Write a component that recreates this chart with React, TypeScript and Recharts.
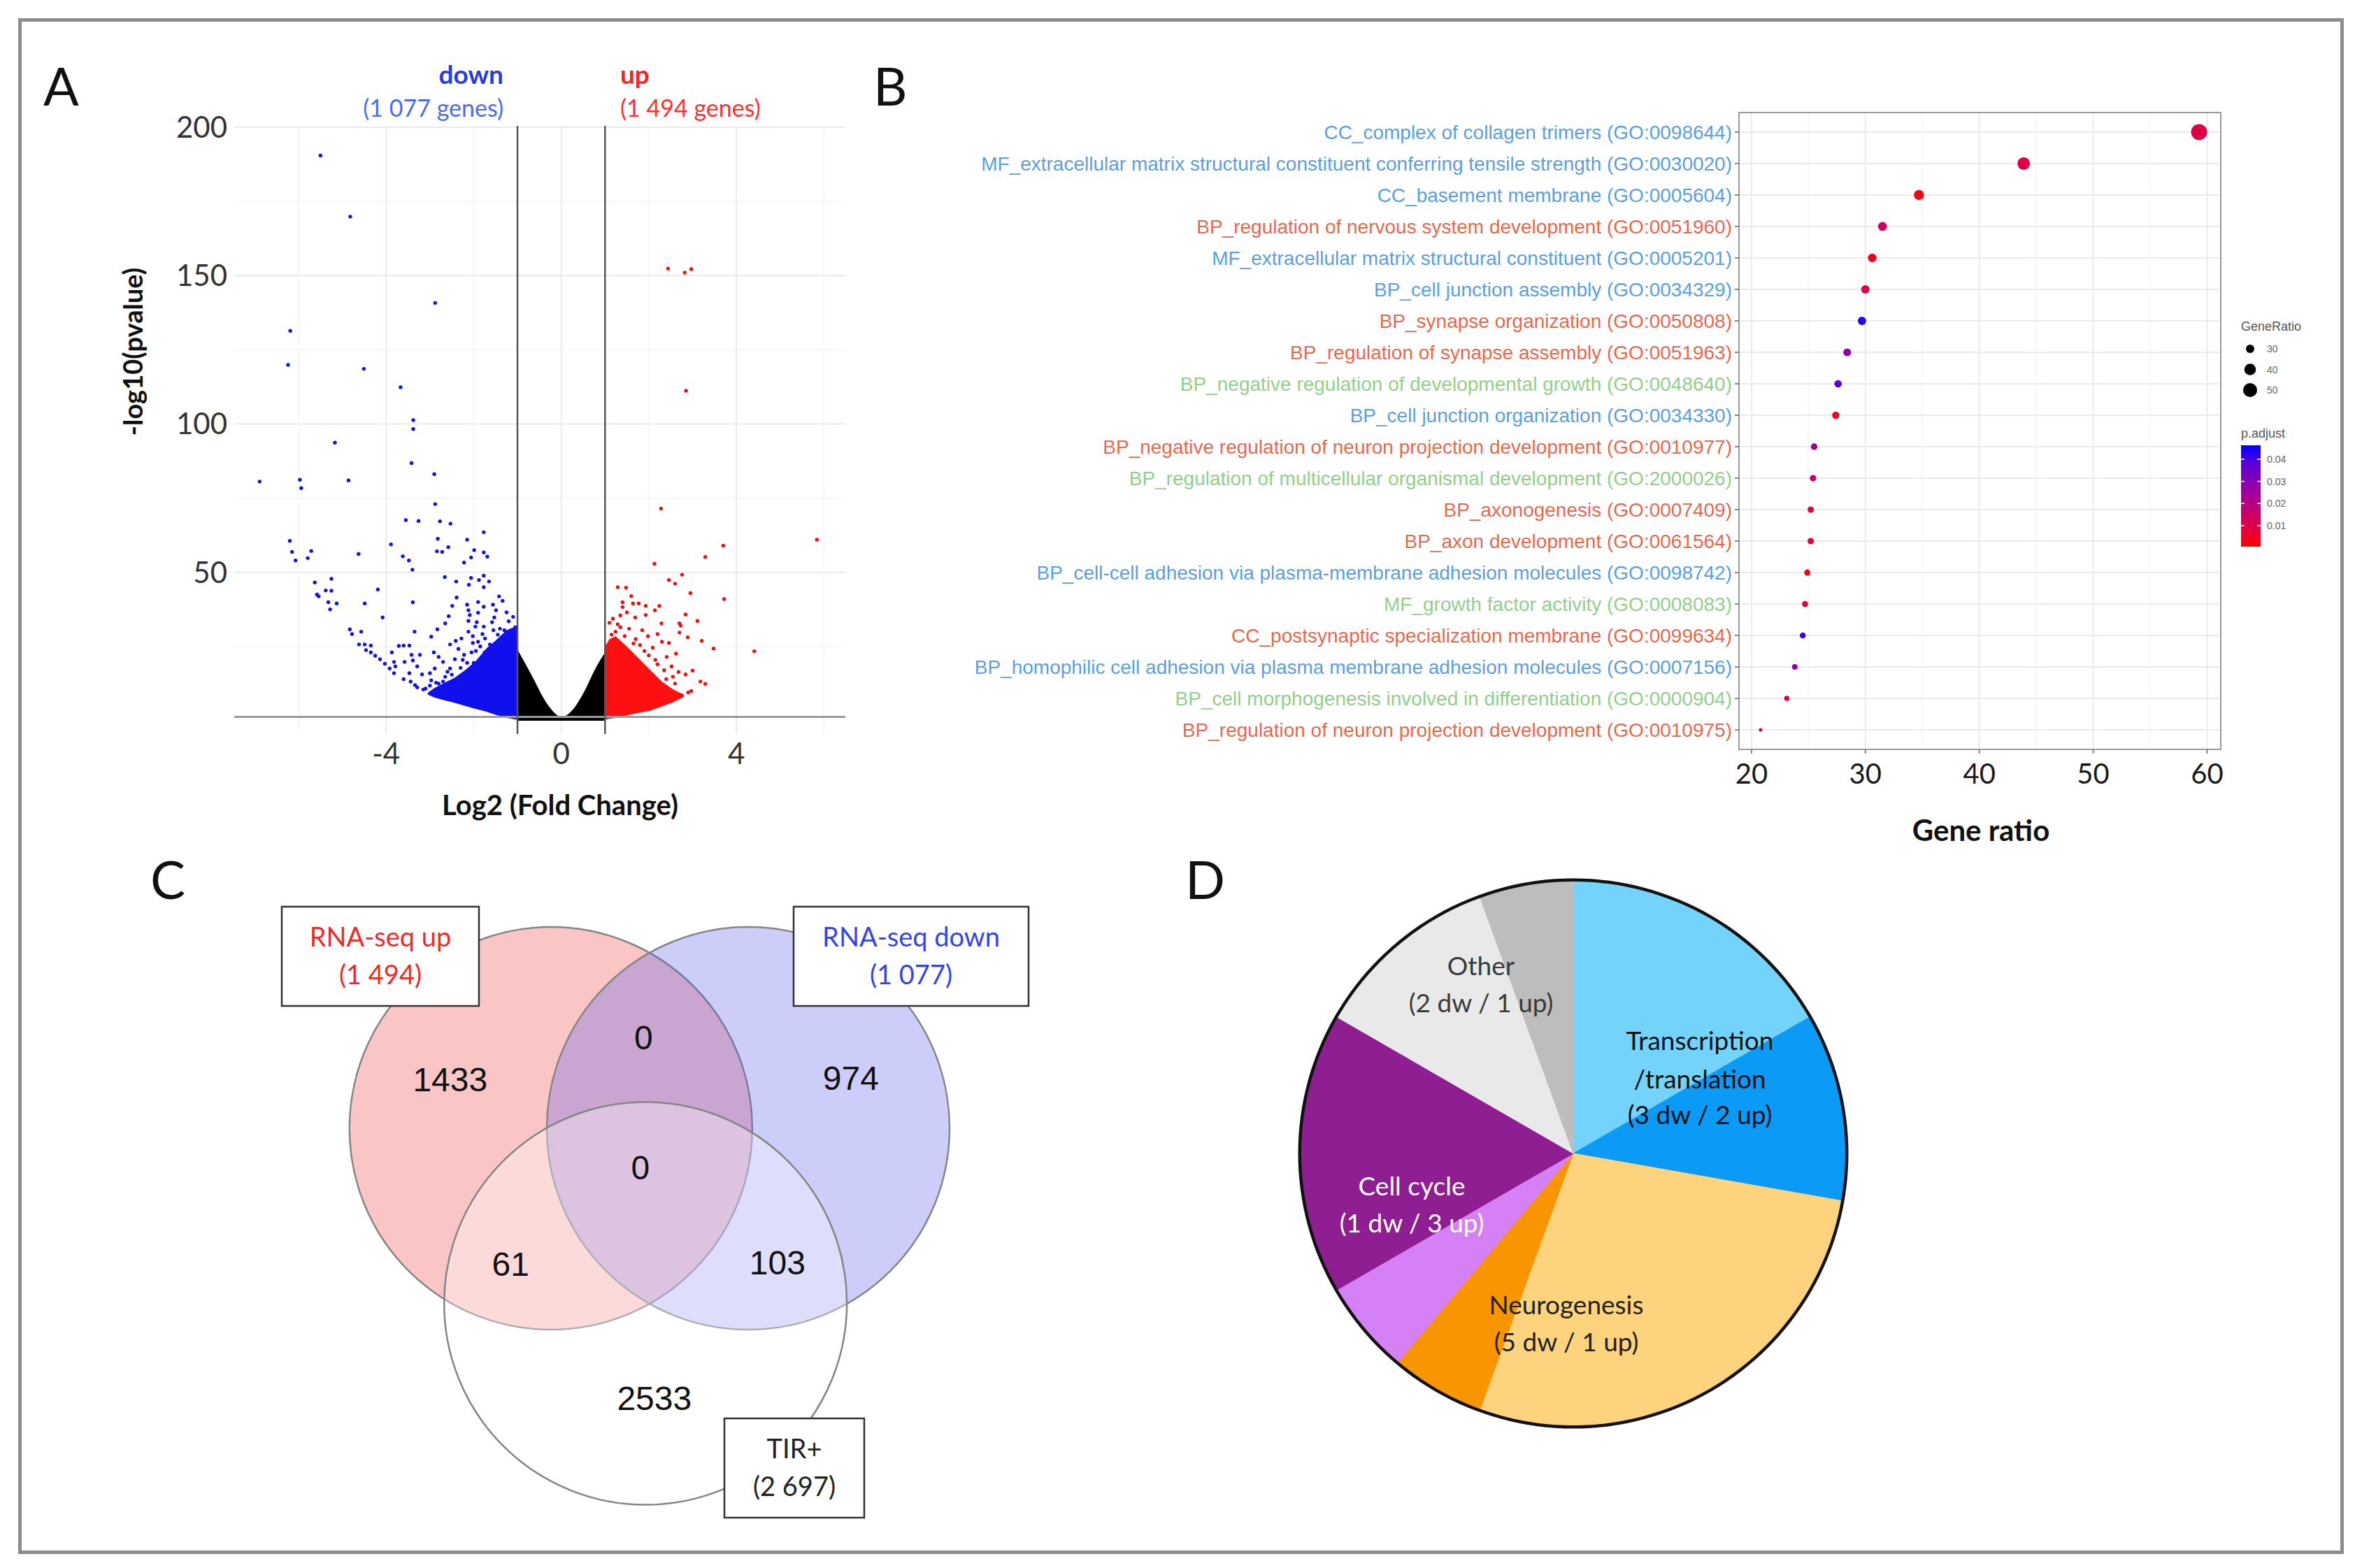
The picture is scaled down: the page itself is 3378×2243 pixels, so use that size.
import React from 'react';
import {
  Area,
  CartesianGrid,
  Cell,
  ComposedChart,
  Pie,
  PieChart,
  ReferenceArea,
  ReferenceLine,
  Scatter,
  ScatterChart,
  XAxis,
  YAxis,
  ZAxis,
} from 'recharts';

const LATO = 'Lato, "Open Sans", sans-serif';
const ARIAL = '"Liberation Sans", Arial, sans-serif';

// ---------- A: volcano (log2 FC, -log10 p) ----------
const downGenes: [number, number][] = [
  [-5.5, 190.5], [-4.82, 169.9], [-2.88, 140.8], [-6.19, 131.4], [-6.24, 119.9], [-4.51, 118.6], [-3.67, 112.4],
  [-3.38, 101.3], [-3.38, 98.3], [-5.17, 93.7], [-3.42, 86.8], [-2.9, 83.1], [-6.89, 80.6], [-5.97, 81.2],
  [-5.94, 78.4], [-4.86, 81.0], [-2.88, 73.0], [-3.55, 67.6], [-3.26, 67.3], [-2.77, 67.2], [-2.53, 66.4],
  [-1.77, 63.5], [-2.82, 61.3], [-2.15, 61.0], [-6.2, 60.6], [-3.89, 59.4], [-2.58, 58.5], [-1.99, 57.5],
  [-2.84, 57.1], [-2.72, 56.9], [-6.15, 56.9], [-5.71, 57.2], [-4.63, 56.2], [-6.07, 54.0], [-5.79, 54.8],
  [-3.62, 55.4], [-3.48, 54.0], [-2.06, 55.0], [-1.77, 56.7], [-1.69, 55.3], [-2.22, 53.3], [-3.4, 50.9],
  [-2.66, 48.4], [-2.06, 48.1], [-1.88, 47.4], [-1.77, 48.9], [-1.65, 46.9], [-2.4, 46.9], [-2.11, 45.8],
  [-1.77, 45.0], [-5.63, 46.6], [-5.25, 47.8], [-5.38, 43.9], [-5.25, 43.8], [-5.58, 42.5], [-5.54, 41.9],
  [-4.19, 44.2], [-5.32, 39.9], [-5.13, 39.5], [-5.28, 37.5], [-4.49, 39.5], [-3.39, 39.9], [-2.39, 41.5],
  [-1.42, 41.9], [-1.34, 40.4], [-2.49, 38.7], [-2.15, 39.1], [-2.12, 37.2], [-1.9, 40.0], [-1.77, 38.4],
  [-1.56, 39.1], [-1.49, 37.2], [-2.09, 35.6], [-1.9, 36.4], [-2.57, 35.2], [-4.08, 34.8], [-1.53, 34.8],
  [-1.58, 33.2], [-2.65, 32.8], [-2.12, 33.6], [-1.93, 33.2], [-1.96, 31.7], [-1.77, 31.7], [-4.83, 30.8],
  [-4.78, 29.2], [-4.57, 30.0], [-2.83, 30.8], [-3.35, 30.0], [-2.12, 30.0], [-2.02, 28.5], [-1.8, 29.2],
  [-2.97, 28.3], [-2.41, 26.9], [-2.28, 27.7], [-2.02, 26.2], [-1.9, 26.6], [-1.74, 27.7], [-1.63, 25.7],
  [-4.62, 25.7], [-4.49, 25.7], [-4.35, 25.3], [-3.71, 25.2], [-3.6, 25.3], [-3.47, 25.3], [-2.54, 25.7],
  [-4.46, 23.8], [-4.35, 23.0], [-4.25, 21.9], [-4.14, 20.7], [-4.03, 19.2], [-3.92, 17.6], [-3.82, 16.0],
  [-3.87, 23.0], [-3.82, 19.8], [-3.79, 18.3], [-3.42, 22.2], [-3.58, 19.8], [-3.39, 20.3], [-3.23, 22.2],
  [-3.29, 18.3], [-3.47, 16.0], [-3.18, 15.6], [-2.91, 23.0], [-2.8, 21.5], [-2.7, 19.8], [-2.89, 17.6],
  [-2.54, 17.6], [-2.43, 20.7], [-2.35, 24.2], [-2.22, 22.2], [-3.44, 13.2], [-3.34, 12.0], [-3.29, 11.2],
  [-2.97, 13.6], [-2.86, 12.8], [-2.7, 13.2], [-1.3, 30.5], [-1.45, 29.0], [-1.2, 33.5], [-1.1, 35.0],
  [-2.6, 10.5], [-2.3, 12.0], [-2.1, 14.5], [-1.85, 18.0], [-1.6, 22.0], [-2.75, 9.5], [-3.1, 10.8],
  [-3.6, 14.0], [-3.0, 16.0], [-2.5, 15.5], [-2.0, 19.5], [-1.25, 36.5], [-1.1, 30.0], [-1.15, 27.0],
  [-1.35, 26.0], [-1.6, 24.5], [-1.75, 23.0], [-1.95, 23.5], [-2.15, 19.5], [-2.3, 17.8], [-2.65, 14.8],
  [-2.8, 12.5], [-3.0, 11.8], [-3.15, 10.5], [-1.4, 31.0], [-1.55, 30.5], [-1.85, 25.0], [-2.05, 23.0],
  [-2.25, 20.5], [-2.6, 16.5], [-1.05, 31.5],
];

const upGenes: [number, number][] = [
  [2.44, 152.4], [2.82, 151.0], [2.97, 152.2], [2.85, 111.2], [2.28, 71.5], [5.84, 61.0], [3.7, 59.0],
  [3.29, 55.2], [2.13, 52.9], [2.76, 49.2], [2.46, 47.4], [2.6, 46.2], [2.95, 43.0], [3.72, 41.0],
  [1.29, 45.0], [1.48, 44.8], [1.6, 42.0], [1.4, 39.9], [1.4, 38.3], [1.64, 39.5], [1.77, 39.5],
  [1.93, 38.7], [2.24, 38.7], [2.14, 37.2], [2.84, 35.8], [3.11, 33.6], [2.29, 32.8], [2.7, 32.8],
  [2.73, 32.0], [1.69, 34.8], [1.93, 35.6], [2.7, 29.7], [2.89, 28.1], [3.21, 26.9], [3.48, 24.3],
  [4.41, 23.4], [2.46, 26.2], [2.62, 22.6], [3.0, 16.9], [2.84, 15.6], [2.68, 16.4], [3.18, 13.2],
  [3.29, 12.4], [2.97, 10.0], [1.18, 34.4], [1.29, 32.5], [1.24, 30.0], [1.98, 28.5], [2.2, 29.2],
  [2.3, 26.6], [2.09, 24.6], [2.41, 21.5], [2.52, 18.3], [1.1, 33.0], [1.35, 35.5], [1.55, 31.0],
  [1.85, 30.5], [2.0, 22.0], [2.2, 19.0], [2.6, 12.5], [2.4, 14.0], [1.7, 27.5], [1.5, 36.5],
  [2.75, 8.5], [2.9, 9.5], [1.45, 28.5], [1.65, 26.0], [1.9, 23.5], [2.15, 20.5], [2.35, 17.0],
  [2.55, 14.8], [1.15, 29.0], [1.35, 31.5], [1.8, 25.5],
];

// dense clouds read as envelopes: [x, low, high]
const downCloud: [number, number, number][] = [
  [-3.05, 8.8, 9.4], [-2.9, 7.8, 11.0], [-2.7, 7.0, 12.5], [-2.43, 6.0, 14.5], [-2.2, 5.0, 17.0],
  [-1.96, 4.0, 20.0], [-1.7, 3.0, 24.5], [-1.5, 2.0, 27.0], [-1.25, 1.0, 30.5], [-1.0, 0.3, 32.0],
];
const nsCloud: [number, number][] = [
  [-1.0, 24], [-0.85, 20], [-0.63, 14], [-0.42, 8], [-0.21, 3.5], [-0.05, 1.5],
  [0.05, 1.3], [0.12, 1.8], [0.33, 5.0], [0.55, 10.5], [0.76, 17], [1.0, 23],
];
const upCloud: [number, number, number][] = [
  [1.0, 0.3, 25], [1.1, 0.6, 27.5], [1.24, 0.9, 28.5], [1.5, 1.8, 25], [1.77, 2.6, 21],
  [2.04, 3.4, 17], [2.3, 4.8, 13.2], [2.57, 6.3, 10.4], [2.8, 8.0, 8.8],
];

const upCount = 1494;
const downCount = 1077;
const tirCount = 2697;

// ---------- B: GO enrichment ----------
const goTerms = [
  'CC_complex of collagen trimers (GO:0098644)',
  'MF_extracellular matrix structural constituent conferring tensile strength (GO:0030020)',
  'CC_basement membrane (GO:0005604)',
  'BP_regulation of nervous system development (GO:0051960)',
  'MF_extracellular matrix structural constituent (GO:0005201)',
  'BP_cell junction assembly (GO:0034329)',
  'BP_synapse organization (GO:0050808)',
  'BP_regulation of synapse assembly (GO:0051963)',
  'BP_negative regulation of developmental growth (GO:0048640)',
  'BP_cell junction organization (GO:0034330)',
  'BP_negative regulation of neuron projection development (GO:0010977)',
  'BP_regulation of multicellular organismal development (GO:2000026)',
  'BP_axonogenesis (GO:0007409)',
  'BP_axon development (GO:0061564)',
  'BP_cell-cell adhesion via plasma-membrane adhesion molecules (GO:0098742)',
  'MF_growth factor activity (GO:0008083)',
  'CC_postsynaptic specialization membrane (GO:0099634)',
  'BP_homophilic cell adhesion via plasma membrane adhesion molecules (GO:0007156)',
  'BP_cell morphogenesis involved in differentiation (GO:0000904)',
  'BP_regulation of neuron projection development (GO:0010975)',
];
const geneRatio = [
  59.3, 43.9, 34.7, 31.5, 30.6, 30.0, 29.7, 28.4, 27.6, 27.4,
  25.5, 25.4, 25.2, 25.2, 24.9, 24.7, 24.5, 23.8, 23.1, 20.8,
];
const pAdjust = [
  0.0097, 0.0097, 0.0019, 0.0142, 0.0028, 0.0106, 0.044, 0.029, 0.039, 0.0042,
  0.026, 0.016, 0.0106, 0.0097, 0.0042, 0.0106, 0.043, 0.028, 0.0088, 0.016,
];
const termGroup = [
  'dw', 'dw', 'dw', 'up', 'dw', 'dw', 'up', 'up', 'mix', 'dw',
  'up', 'mix', 'up', 'up', 'dw', 'mix', 'up', 'dw', 'mix', 'up',
];
const sizeLegend = [30, 40, 50];
const padjLegend = [0.01, 0.02, 0.03, 0.04];

// ---------- C: Venn ----------
const vennSets = ['RNA-seq up', 'RNA-seq down', 'TIR+'];
const vennTotals = [upCount, downCount, tirCount];
// region counts: up only, up∩down, down only, all three, up∩TIR, down∩TIR, TIR only
const vennCounts = [1433, 0, 974, 0, 61, 103, 2533];

// ---------- D: pie ----------
const pieCategories = ['Transcription/translation', 'Neurogenesis', 'Cell cycle', 'Other'];
const pieDw = [3, 5, 1, 2];
const pieUp = [2, 1, 3, 1];

// ---------- styling ----------
const GROUP_COLOR: Record<string, string> = { dw: '#5a9fe3', up: '#e8684e', mix: '#93cf8c' };
const P_MIN = 0.0005;
const P_MAX = 0.0463;
const SIZE_DOMAIN: [number, number] = [20, 60];
const SIZE_RANGE: [number, number] = [12, 420];
const PIE_COLORS = [
  ['#74d3fb', '#0b9bf6'],
  ['#fdd47d', '#f89500'],
  ['#d680f5', '#8f1e92'],
  ['#e9e9e9', '#bdbdbd'],
];
const PIE_TEXT = ['#111', '#222', '#fff', '#3a3a3a'];

function padjColor(p: number) {
  const t = Math.min(1, Math.max(0, (p - P_MIN) / (P_MAX - P_MIN)));
  const r = Math.round(255 * Math.pow(1 - t, 0.6));
  const b = Math.round(255 * Math.pow(t, 0.8));
  return `rgb(${r},0,${b})`;
}

function sizeRadius(v: number) {
  const a = SIZE_RANGE[0] + ((v - SIZE_DOMAIN[0]) / (SIZE_DOMAIN[1] - SIZE_DOMAIN[0])) * (SIZE_RANGE[1] - SIZE_RANGE[0]);
  return Math.sqrt(a / Math.PI);
}

const fmt = (n: number) => String(n).replace(/\B(?=(\d{3})+(?!\d))/g, ' ');

// grid positions in pixels, from the same domains the axes use
const gridX = (values: number[], domain: [number, number]) => (props: any) => {
  const { left, width } = props.offset;
  return values.map((v) => left + ((v - domain[0]) / (domain[1] - domain[0])) * width);
};
const gridY = (values: number[], domain: [number, number], reversed = false) => (props: any) => {
  const { top, height } = props.offset;
  return values.map((v) => {
    const t = (v - domain[0]) / (domain[1] - domain[0]);
    return reversed ? top + t * height : top + (1 - t) * height;
  });
};

// ---------- Panel A ----------
const VOL_X: [number, number] = [-7.47, 6.49];
const VOL_Y: [number, number] = [-4.5, 200.5];

const cloudRows = [
  ...downCloud.map(([x, lo, hi]) => ({ x, down: [lo, hi] })),
  ...nsCloud.map(([x, hi]) => ({ x, ns: [0, hi] })),
  ...upCloud.map(([x, lo, hi]) => ({ x, up: [lo, hi] })),
].sort((a, b) => a.x - b.x);

const downPts = downGenes.map(([x, y]) => ({ x, y }));
const upPts = upGenes.map(([x, y]) => ({ x, y }));

function Volcano() {
  return (
    <div style={{ position: 'absolute', left: 0, top: 0 }}>
      <ComposedChart
        width={1260}
        height={1260}
        data={cloudRows}
        margin={{ top: 180, right: 51, bottom: 150, left: 235 }}
      >
        <CartesianGrid
          stroke="#f4f4f4"
          strokeWidth={1.5}
          horizontalCoordinatesGenerator={gridY([25, 75, 125, 175], VOL_Y)}
          verticalCoordinatesGenerator={gridX([-6, -2, 2, 6], VOL_X)}
        />
        <CartesianGrid
          stroke="#ebebeb"
          strokeWidth={2}
          horizontalCoordinatesGenerator={gridY([50, 100, 150, 200], VOL_Y)}
          verticalCoordinatesGenerator={gridX([-4, 0, 4], VOL_X)}
        />
        <XAxis
          type="number"
          dataKey="x"
          domain={VOL_X}
          ticks={[-4, 0, 4]}
          allowDataOverflow
          axisLine={false}
          tickLine={false}
          tickSize={0}
          tickMargin={13}
          height={60}
          tick={{ fontSize: 42, fill: '#333', fontFamily: LATO }}
        />
        <YAxis
          type="number"
          dataKey="y"
          domain={VOL_Y}
          ticks={[50, 100, 150, 200]}
          allowDataOverflow
          axisLine={false}
          tickLine={false}
          tickSize={0}
          tickMargin={10}
          width={100}
          tick={{ fontSize: 42, fill: '#333', fontFamily: LATO }}
        />
        <ReferenceLine y={1.3} stroke="#9a9a9a" strokeWidth={3} />
        <Area dataKey="ns" type="monotone" fill="#000" fillOpacity={1} stroke="none" isAnimationActive={false} />
        <Area dataKey="down" type="linear" fill="#1010ee" fillOpacity={1} stroke="none" isAnimationActive={false} />
        <Area dataKey="up" type="linear" fill="#ff1010" fillOpacity={1} stroke="none" isAnimationActive={false} />
        <Scatter
          data={downPts}
          isAnimationActive={false}
          shape={(p: any) => <circle cx={p.cx} cy={p.cy} r={2.7} fill="#1414e0" />}
        />
        <Scatter
          data={upPts}
          isAnimationActive={false}
          shape={(p: any) => <circle cx={p.cx} cy={p.cy} r={2.7} fill="#f01010" />}
        />
        <ReferenceLine x={-1} stroke="#555" strokeWidth={2.5} />
        <ReferenceLine x={1} stroke="#555" strokeWidth={2.5} />
      </ComposedChart>
    </div>
  );
}

// ---------- Panel B ----------
const GO_X: [number, number] = [18.9, 61.2];
const GO_Y: [number, number] = [-0.62, 19.62];
const goRows = goTerms.map((term, i) => ({ row: i, ratio: geneRatio[i], padj: pAdjust[i], term }));

function TermTick(props: any) {
  const { x, y, payload } = props;
  const i = payload.value as number;
  return (
    <text x={x} y={y} dy={10} textAnchor="end" fontSize={28} fontFamily={ARIAL} fill={GROUP_COLOR[termGroup[i]]}>
      {goTerms[i]}
    </text>
  );
}

function GoDotPlot() {
  const rows = goTerms.map((_, i) => i);
  return (
    <div style={{ position: 'absolute', left: 1380, top: 100 }}>
      <ScatterChart width={1998} height={1130} margin={{ top: 61, right: 202, bottom: 98, left: 7 }}>
        <CartesianGrid
          stroke="#f4f4f4"
          strokeWidth={1.5}
          horizontal={false}
          verticalCoordinatesGenerator={gridX([25, 35, 45, 55], GO_X)}
        />
        <CartesianGrid
          stroke="#ebebeb"
          strokeWidth={2}
          horizontalCoordinatesGenerator={gridY(rows, GO_Y, true)}
          verticalCoordinatesGenerator={gridX([20, 30, 40, 50, 60], GO_X)}
        />
        <XAxis
          type="number"
          dataKey="ratio"
          domain={GO_X}
          ticks={[20, 30, 40, 50, 60]}
          allowDataOverflow
          axisLine={false}
          tickLine={{ stroke: '#888', strokeWidth: 2 }}
          tickSize={6}
          tickMargin={15}
          height={60}
          tick={{ fontSize: 40, fill: '#1a1a1a', fontFamily: LATO }}
        />
        <YAxis
          type="number"
          dataKey="row"
          domain={GO_Y}
          reversed
          ticks={rows}
          interval={0}
          allowDataOverflow
          axisLine={false}
          tickLine={{ stroke: '#888', strokeWidth: 2 }}
          tickSize={6}
          tickMargin={4}
          width={1100}
          tick={<TermTick />}
        />
        <ZAxis type="number" dataKey="ratio" domain={SIZE_DOMAIN} range={SIZE_RANGE} />
        <ReferenceArea x1={GO_X[0]} x2={GO_X[1]} y1={GO_Y[0]} y2={GO_Y[1]} fill="none" stroke="#9a9a9a" strokeWidth={2} />
        <Scatter data={goRows} isAnimationActive={false}>
          {goRows.map((r) => (
            <Cell key={r.row} fill={padjColor(r.padj)} />
          ))}
        </Scatter>
      </ScatterChart>
    </div>
  );
}

// ---------- Panel C ----------
const VENN_W = 1120;
const VENN_H = 960;
const VENN_X: [number, number] = [-1.906, 1.983];
const VENN_Y: [number, number] = [-2.035, 1.299];
const VENN_R_PX = VENN_W / (VENN_X[1] - VENN_X[0]);
const VENN_CENTERS = [
  [-0.49, 0],
  [0.49, 0],
  [-0.02, -0.87],
];
const VENN_FILLS = ['rgba(239,83,80,0.33)', 'rgba(90,90,240,0.3)', 'rgba(255,255,255,0.35)'];
const VENN_LABEL_POS = [
  [-0.99, 0.243],
  [-0.03, 0.45],
  [1.0, 0.25],
  [-0.045, -0.194],
  [-0.69, -0.674],
  [0.635, -0.667],
  [0.024, -1.34],
];

const vennCircles = vennSets.map((name, i) => ({
  name,
  x: VENN_CENTERS[i][0],
  y: VENN_CENTERS[i][1],
  fill: VENN_FILLS[i],
}));
const vennLabels = vennCounts.map((count, i) => ({ count, x: VENN_LABEL_POS[i][0], y: VENN_LABEL_POS[i][1] }));

function Venn() {
  return (
    <div style={{ position: 'absolute', left: 380, top: 1240 }}>
      <ScatterChart width={VENN_W} height={VENN_H} margin={{ top: 0, right: 0, bottom: 0, left: 0 }}>
        <XAxis type="number" dataKey="x" domain={VENN_X} hide allowDataOverflow />
        <YAxis type="number" dataKey="y" domain={VENN_Y} hide allowDataOverflow />
        <Scatter
          data={vennCircles}
          isAnimationActive={false}
          shape={(p: any) => (
            <circle cx={p.cx} cy={p.cy} r={VENN_R_PX} fill={p.payload.fill} stroke="#858585" strokeWidth={2.5} />
          )}
        />
        <Scatter
          data={vennLabels}
          isAnimationActive={false}
          shape={(p: any) => (
            <text x={p.cx} y={p.cy + 17} textAnchor="middle" fontSize={48} fontFamily={ARIAL} fill="#111">
              {p.payload.count}
            </text>
          )}
        />
      </ScatterChart>
    </div>
  );
}

// ---------- Panel D ----------
const pieSlices = pieCategories.flatMap((c, i) => [
  { name: `${c} dw`, value: pieDw[i], fill: PIE_COLORS[i][0] },
  { name: `${c} up`, value: pieUp[i], fill: PIE_COLORS[i][1] },
]);

function PiePanel() {
  return (
    <div style={{ position: 'absolute', left: 1840, top: 1240 }}>
      <PieChart width={820} height={820} margin={{ top: 0, right: 0, bottom: 0, left: 0 }}>
        <Pie
          data={pieSlices}
          dataKey="value"
          cx={410}
          cy={410}
          outerRadius={391}
          startAngle={90}
          endAngle={-270}
          isAnimationActive={false}
        >
          {pieSlices.map((s) => (
            <Cell key={s.name} fill={s.fill} stroke={s.fill} strokeWidth={1} />
          ))}
        </Pie>
        <Pie
          data={[{ value: 1 }]}
          dataKey="value"
          cx={410}
          cy={410}
          innerRadius={389}
          outerRadius={393.5}
          startAngle={90}
          endAngle={-270}
          fill="#111"
          stroke="none"
          isAnimationActive={false}
        />
      </PieChart>
    </div>
  );
}

// ---------- annotations ----------
const PIE_LABEL_POS = [
  [2431, 1502],
  [2240, 1880],
  [2019, 1710],
  [2118, 1395],
];
const VENN_BOXES = [
  { x: 403, y: 1297, w: 282, h: 142, color: '#f02a2a' },
  { x: 1135, y: 1297, w: 336, h: 142, color: '#3344ee' },
  { x: 1036, y: 2029, w: 200, h: 142, color: '#222' },
];

function Overlay() {
  const legendBarTop = 637;
  const legendBarH = 145;
  const padjY = (v: number) => legendBarTop + legendBarH - ((v - P_MIN) / (P_MAX - P_MIN)) * legendBarH;
  return (
    <svg width={3378} height={2243} style={{ position: 'absolute', left: 0, top: 0, pointerEvents: 'none' }}>
      <defs>
        <linearGradient id="padjGrad" x1="0" y1="0" x2="0" y2="1">
          {[0, 0.2, 0.4, 0.6, 0.8, 1].map((o) => (
            <stop key={o} offset={o} stopColor={padjColor(P_MAX - o * (P_MAX - P_MIN))} />
          ))}
        </linearGradient>
      </defs>
      {/* panel letters */}
      <g fontFamily={LATO} fontSize={75} fill="#111">
        <text x={62} y={151}>A</text>
        <text x={1249} y={151}>B</text>
        <text x={215} y={1286}>C</text>
        <text x={1695} y={1286}>D</text>
      </g>

      {/* A texts */}
      <g fontFamily={LATO}>
        <text x={720} y={120} textAnchor="end" fontSize={37} fontWeight={700} fill="#2b3be0">down</text>
        <text x={720} y={167} textAnchor="end" fontSize={34} fill="#4a6cf0">({fmt(downCount)} genes)</text>
        <text x={887} y={120} fontSize={37} fontWeight={700} fill="#ff2424">up</text>
        <text x={887} y={167} fontSize={34} fill="#ff3030">({fmt(upCount)} genes)</text>
        <text
          x={189}
          y={503}
          transform="rotate(-90 189 503)"
          textAnchor="middle"
          dominantBaseline="central"
          fontSize={38}
          fontWeight={700}
          fill="#111"
        >
          -log10(pvalue)
        </text>
        <text x={801} y={1166} textAnchor="middle" fontSize={40} fontWeight={700} fill="#111">
          Log2 (Fold Change)
        </text>
        <text x={2833} y={1203} textAnchor="middle" fontSize={42} fontWeight={700} fill="#111">
          Gene ratio
        </text>
      </g>

      {/* B legend */}
      <g fontFamily={ARIAL}>
        <text x={3205} y={473} fontSize={18} fill="#555">GeneRatio</text>
        {sizeLegend.map((v, i) => (
          <g key={v}>
            <circle cx={3218} cy={499 + i * 29.5} r={sizeRadius(v)} fill="#000" />
            <text x={3242} y={504 + i * 29.5} fontSize={14} fill="#666">{v}</text>
          </g>
        ))}
        <text x={3205} y={626} fontSize={18} fill="#555">p.adjust</text>
        <rect x={3205} y={legendBarTop} width={28} height={legendBarH} fill="url(#padjGrad)" />
        {padjLegend.map((v) => (
          <g key={v}>
            <line x1={3205} x2={3210} y1={padjY(v)} y2={padjY(v)} stroke="#fff" strokeWidth={1.5} />
            <line x1={3228} x2={3233} y1={padjY(v)} y2={padjY(v)} stroke="#fff" strokeWidth={1.5} />
            <text x={3242} y={padjY(v) + 5} fontSize={14} fill="#666">{v.toFixed(2)}</text>
          </g>
        ))}
      </g>

      {/* C boxes */}
      <g fontFamily={LATO} fontSize={38} textAnchor="middle">
        {VENN_BOXES.map((b, i) => (
          <g key={vennSets[i]}>
            <rect x={b.x} y={b.y} width={b.w} height={b.h} fill="#fff" stroke="#333" strokeWidth={2.5} />
            <text x={b.x + b.w / 2} y={b.y + 57} fill={b.color}>{vennSets[i]}</text>
            <text x={b.x + b.w / 2} y={b.y + 111} fill={b.color}>({fmt(vennTotals[i])})</text>
          </g>
        ))}
      </g>

      {/* D labels */}
      <g fontFamily={LATO} fontSize={37} textAnchor="middle">
        {pieCategories.map((c, i) => {
          const lines = c.includes('/') ? [c.split('/')[0], `/${c.split('/')[1]}`] : [c];
          const [x, y] = PIE_LABEL_POS[i];
          return (
            <g key={c} fill={PIE_TEXT[i]}>
              {lines.map((l, k) => (
                <text key={l} x={x} y={y + k * 55}>{l}</text>
              ))}
              <text x={x} y={y + lines.length * 53}>({pieDw[i]} dw / {pieUp[i]} up)</text>
            </g>
          );
        })}
      </g>
    </svg>
  );
}

export default function App() {
  return (
    <div style={{ position: 'absolute', left: 0, top: 0, width: 3378, height: 2243, background: '#fff', overflow: 'hidden' }}>
      <div
        style={{
          position: 'absolute',
          left: 26,
          top: 26,
          width: 3326,
          height: 2197,
          border: '5px solid #8c8c8c',
          boxSizing: 'border-box',
        }}
      />
      <Volcano />
      <GoDotPlot />
      <Venn />
      <PiePanel />
      <Overlay />
    </div>
  );
}
